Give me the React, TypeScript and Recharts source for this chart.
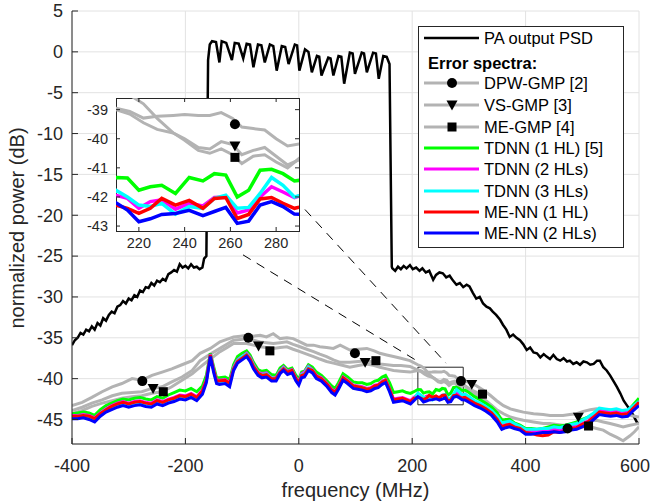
import React from 'react';
import {
  ComposedChart,
  Line,
  XAxis,
  YAxis,
  CartesianGrid,
  ReferenceArea,
  ReferenceLine,
} from 'recharts';

const FONT = '"Liberation Sans", Arial, Helvetica, sans-serif';
const AX = '#262626';
const GREY = '#b3b3b3';

const xTicks = [-400, -200, 0, 200, 400, 600];
const yTicks = [5, 0, -5, -10, -15, -20, -25, -30, -35, -40, -45];
const insetXTicks = [220, 240, 260, 280];
const insetYTicks = [-43, -42, -41, -40, -39];

// PA output PSD
const psdFreq = [
  -400, -395, -390, -385, -380, -375, -370, -365, -360, -355,
  -350, -345, -340, -335, -330, -325, -320, -315, -310, -305,
  -300, -295, -290, -285, -280, -275, -270, -265, -260, -255,
  -250, -245, -240, -235, -230, -225, -220, -215, -210, -205,
  -200, -195, -190, -185, -180, -175, -170, -167, -163, -160,
  -157, -153, -146, -140, -136, -128, -118, -113, -106, -98,
  -92, -86, -80, -72, -66, -60, -51, -45, -39, -30,
  -24, -18, -7, -3, 1, 11, 17, 23, 32, 36,
  40, 52, 56, 61, 70, 75, 80, 90, 95, 99,
  111, 115, 120, 131, 136, 141, 149, 155, 160, 164,
  165, 170, 175, 180, 185, 190, 196, 201, 207, 213,
  218, 224, 230, 237, 242, 248, 254, 260, 266, 272,
  278, 284, 290, 296, 301, 307, 313, 319, 325, 331,
  337, 342, 348, 355, 360, 366, 372, 378, 384, 390,
  396, 402, 408, 414, 420, 426, 432, 437, 443, 449,
  455, 461, 467, 473, 478, 484, 490, 496, 502, 508,
  514, 520, 526, 531, 537, 543, 549, 555, 561, 567,
  573, 579, 585, 590, 596, 600,
];
const psdVals = [
  -35.9, -35.3, -35.0, -34.4, -34.6, -34.0, -34.2, -33.6, -34.0, -33.2,
  -33.5, -32.6, -32.9, -32.2, -31.8, -32.0, -31.2, -31.0, -30.5, -30.8,
  -30.2, -30.4, -29.8, -30.0, -29.2, -29.4, -28.8, -28.9, -28.3, -28.6,
  -28.0, -28.2, -27.8, -28.0, -27.2, -27.0, -26.7, -26.9, -26.0, -26.4,
  -26.2, -26.5, -26.0, -26.4, -26.3, -26.6, -26.4, -25.3, -25.0, -1.0,
  0.9, 1.3, 1.2, -1.3, 1.3, 1.1, -1.0, 1.1, 1.0, -0.8,
  1.0, 0.9, -1.9, 0.9, 0.8, -1.3, 0.9, 0.7, -2.3, 0.7,
  0.6, -1.5, 0.9, 0.8, -2.3, 0.3, 0.0, -2.5, -0.5, -0.6,
  -2.9, -0.7, -0.8, -2.9, -0.5, -0.6, -3.9, -0.1, -0.2, -2.7,
  -0.1, -0.2, -2.5, -0.1, -0.2, -3.3, -0.5, -0.6, -1.5, -26.3,
  -26.5, -26.8, -26.3, -26.6, -26.2, -26.5, -26.1, -26.6, -26.4, -26.8,
  -26.5, -27.0, -26.8, -27.9, -27.3, -27.0, -27.1, -27.6, -27.4, -28.0,
  -28.5, -28.3, -28.8, -28.5, -28.7, -29.5, -30.2, -30.0, -30.8, -31.2,
  -31.4, -31.8, -32.2, -32.8, -33.4, -34.0, -34.9, -34.6, -35.0, -35.3,
  -35.8, -36.5, -36.2, -36.8, -36.9, -37.4, -37.0, -37.3, -37.6, -37.1,
  -37.6, -37.8, -37.5, -37.9, -37.8, -38.2, -38.0, -38.3, -37.9, -38.0,
  -38.3, -38.2, -37.8, -37.8, -38.6, -39.0, -39.6, -40.3, -41.0, -41.8,
  -42.7, -43.3, -43.9, -44.5, -45.3, -45.6,
];

// GMP error spectra (grey)
const gmpFreq = [
  -400, -382, -365, -347, -329, -312, -294, -277, -259, -241,
  -224, -206, -188, -174, -156, -139, -127, -115, -103, -92,
  -80, -68, -57, -45, -33, -21, -10, 2, 14, 26,
  37, 49, 61, 73, 90, 105, 120, 133, 143, 155,
  167, 180, 196, 210, 216, 222, 228, 235, 240, 246,
  251, 256, 261, 265, 270, 275, 280, 285, 290, 302,
  314, 325, 337, 349, 361, 373, 384, 396, 414, 431,
  443, 455, 466, 478, 490, 502, 514, 525, 537, 549,
  561, 572, 584, 592, 600,
];
const dpwGmp = [
  -43.3, -42.9, -42.3, -41.6, -41.0, -40.6, -40.0, -40.2, -39.6, -39.2,
  -38.8, -38.3, -37.8, -36.9, -36.3, -35.5, -35.2, -34.9, -34.8, -34.7,
  -34.8, -34.7, -34.9, -34.5, -35.1, -35.0, -35.1, -35.5, -35.9, -35.9,
  -36.1, -36.2, -36.3, -35.9, -36.5, -36.4, -36.3, -36.6, -36.9, -37.1,
  -37.3, -37.5, -37.8, -38.3, -38.5, -38.8, -39.3, -39.8, -40.05, -40.4,
  -40.5, -40.35, -40.55, -40.85, -40.6, -40.55, -40.8, -41.0, -40.68, -41.5,
  -42.0, -42.8, -43.7, -44.4, -45.1, -45.5, -45.9, -46.1, -46.3, -46.4,
  -46.5, -46.4, -46.3, -46.2, -46.1, -45.9, -45.9, -46.1, -46.3, -46.8,
  -47.2, -47.6, -47.0, -46.5, -45.9,
];
const vsGmp = [
  -43.9, -43.5, -43.0, -42.6, -42.1, -41.8, -41.7, -41.6, -41.2, -41.0,
  -40.4, -39.8, -39.0, -37.8, -37.0, -36.3, -35.8, -35.3, -35.2, -35.1,
  -35.3, -35.5, -35.6, -35.7, -35.6, -35.5, -35.8, -36.1, -36.4, -36.7,
  -37.0, -37.3, -37.7, -38.0, -38.0, -37.9, -37.8, -38.0, -38.2, -38.3,
  -38.4, -38.4, -38.5, -38.95, -39.06, -39.29, -39.23, -39.2, -39.17, -39.2,
  -39.2, -39.1, -39.3, -39.6, -39.65, -39.7, -40.0, -40.25, -40.18, -40.5,
  -40.9, -41.4, -42.0, -42.7, -43.3, -43.7, -43.9, -44.1, -44.3, -44.4,
  -44.5, -44.5, -44.5, -44.4, -44.3, -44.0, -43.8, -43.7, -43.8, -43.8,
  -44.0, -44.1, -44.5, -44.6, -44.7,
];
const meGmp = [
  -44.3, -43.9, -43.4, -43.0, -42.7, -42.4, -42.2, -42.1, -41.8, -41.6,
  -41.0, -40.2, -39.4, -38.6, -37.6, -36.7, -36.2, -35.7, -35.7, -35.7,
  -35.9, -36.1, -36.2, -36.3, -36.2, -36.1, -36.4, -36.7, -37.0, -37.3,
  -37.6, -37.9, -38.1, -38.3, -38.6, -38.4, -38.2, -38.4, -38.6, -38.8,
  -39.0, -39.1, -39.2, -39.0, -39.15, -39.45, -39.68, -39.8, -40.0, -40.3,
  -40.35, -40.1, -40.2, -40.55, -40.4, -40.3, -40.6, -40.9, -40.73, -41.3,
  -41.7, -42.4, -43.1, -43.8, -44.3, -44.7, -44.9, -45.1, -45.3, -45.5,
  -45.5, -45.6, -45.7, -45.6, -45.4, -45.3, -45.2, -45.1, -45.3, -45.5,
  -45.7, -45.9, -45.7, -45.6, -45.5,
];

// NN error spectra
const nnFreq = [
  -400, -390, -380, -370, -360, -350, -340, -330, -320, -310,
  -300, -290, -280, -270, -260, -250, -240, -230, -220, -210,
  -200, -190, -180, -170, -163, -156, -150, -145, -140, -130,
  -122, -115, -108, -100, -92, -86, -80, -72, -65, -57,
  -48, -40, -33, -27, -20, -12, -5, 0, 5, 10,
  17, 24, 31, 40, 50, 58, 64, 70, 78, 86,
  96, 104, 112, 120, 127, 134, 140, 147, 153, 160,
  167, 175, 183, 190, 197, 203, 210, 215, 220, 225,
  230, 236, 242, 248, 253, 258, 263, 268, 273, 278,
  283, 288, 293, 300, 310, 320, 330, 340, 350, 358,
  365, 372, 380, 390, 400, 410, 420, 430, 440, 450,
  460, 470, 480, 490, 500, 510, 520, 530, 540, 550,
  560, 570, 580, 590, 600,
];
const tdnn1 = [
  -44.3, -44.2, -44.1, -44.2, -44.5, -43.8, -43.3, -43.0, -42.7, -42.5,
  -42.6, -42.4, -42.3, -42.5, -42.6, -42.2, -42.4, -42.0, -41.7, -41.4,
  -41.5, -41.2, -41.6, -40.9, -39.6, -36.9, -38.6, -39.9, -39.9, -39.8,
  -40.1, -38.3, -37.3, -36.9, -36.6, -37.1, -38.0, -38.9, -39.1, -39.0,
  -39.5, -39.6, -38.7, -38.4, -38.9, -38.7, -39.6, -40.1, -39.2, -39.1,
  -38.3, -38.6, -39.2, -39.6, -40.3, -40.9, -41.2, -40.5, -39.4, -39.8,
  -40.4, -40.5, -40.5, -40.7, -40.6, -40.3, -40.2, -39.8, -39.6, -40.5,
  -41.7, -41.6, -41.5, -41.7, -41.8, -41.6, -41.33, -41.35, -41.77, -41.65,
  -41.6, -41.88, -41.33, -41.45, -41.2, -41.25, -42.0, -41.77, -41.08, -41.05,
  -41.2, -41.45, -41.4, -41.7, -42.2, -42.6, -43.0, -43.5, -44.2, -45.1,
  -45.0, -45.0, -45.4, -45.7, -46.1, -46.1, -46.2, -46.1, -45.9, -45.7,
  -45.8, -45.7, -45.5, -45.3, -45.0, -44.7, -44.3, -43.8, -43.9, -44.0,
  -43.9, -44.1, -44.0, -43.2, -42.4,
];
const tdnn2 = [
  -44.5, -44.5, -44.4, -44.5, -44.8, -44.2, -43.7, -43.3, -43.0, -42.8,
  -43.0, -42.8, -42.7, -42.9, -43.0, -42.6, -42.8, -42.5, -42.3, -42.0,
  -42.1, -41.8, -42.2, -41.4, -40.1, -37.0, -38.9, -40.2, -40.2, -40.1,
  -40.5, -38.6, -37.7, -37.3, -36.9, -37.4, -38.3, -39.2, -39.4, -39.3,
  -39.9, -39.9, -39.0, -38.6, -39.1, -38.9, -39.9, -40.4, -39.4, -39.2,
  -38.5, -38.9, -39.6, -39.9, -40.6, -41.3, -41.6, -40.9, -39.8, -40.2,
  -40.8, -40.9, -41.0, -41.2, -41.1, -40.8, -40.7, -40.3, -40.1, -41.2,
  -42.5, -42.4, -42.3, -42.5, -42.7, -42.3, -41.94, -42.05, -42.39, -42.16,
  -42.1, -42.42, -42.22, -42.31, -42.02, -42.0, -42.55, -42.45, -42.0, -41.65,
  -41.83, -42.02, -41.9, -42.3, -42.8, -43.1, -43.5, -44.0, -44.8, -45.7,
  -45.5, -45.4, -45.7, -45.9, -46.4, -46.5, -46.4, -46.4, -46.3, -46.2,
  -46.3, -46.1, -45.9, -45.8, -45.5, -45.2, -44.6, -43.9, -44.0, -44.1,
  -44.0, -44.2, -44.1, -43.4, -42.8,
];
const tdnn3 = [
  -44.7, -44.6, -44.5, -44.7, -45.1, -44.3, -43.8, -43.5, -43.2, -43.0,
  -43.2, -43.0, -42.9, -43.1, -43.2, -42.8, -43.0, -42.7, -42.5, -42.2,
  -42.3, -42.0, -42.4, -41.6, -40.2, -37.1, -39.0, -40.4, -40.4, -40.3,
  -40.7, -38.7, -37.8, -37.3, -37.0, -37.5, -38.4, -39.3, -39.5, -39.4,
  -39.9, -40.0, -39.1, -38.7, -39.2, -39.0, -40.0, -40.5, -39.5, -39.4,
  -38.6, -39.0, -39.7, -40.0, -40.7, -41.4, -41.8, -41.0, -39.9, -40.3,
  -40.9, -41.0, -41.1, -41.3, -41.3, -41.0, -40.8, -40.4, -40.2, -41.4,
  -42.7, -42.6, -42.5, -42.7, -42.9, -42.5, -41.77, -42.0, -42.28, -42.33,
  -42.22, -42.59, -42.33, -42.39, -42.05, -41.94, -42.39, -42.36, -41.88, -41.33,
  -41.6, -42.0, -41.9, -42.2, -42.7, -43.0, -43.4, -43.9, -44.6, -45.4,
  -45.3, -45.2, -45.5, -45.8, -46.2, -46.2, -46.2, -46.1, -46.1, -45.9,
  -46.0, -45.8, -45.6, -45.5, -45.1, -44.7, -44.2, -43.6, -43.7, -43.8,
  -43.7, -43.9, -43.8, -43.3, -42.8,
];
const meNn1 = [
  -44.6, -44.6, -44.5, -44.6, -44.9, -44.3, -43.8, -43.4, -43.1, -42.9,
  -43.1, -42.9, -42.8, -43.0, -43.1, -42.7, -42.9, -42.6, -42.4, -42.1,
  -42.2, -41.9, -42.3, -41.5, -40.2, -37.1, -39.0, -40.3, -40.3, -40.2,
  -40.6, -38.8, -37.9, -37.5, -37.1, -37.6, -38.5, -39.3, -39.6, -39.5,
  -40.0, -40.0, -39.2, -38.8, -39.2, -39.0, -40.0, -40.5, -39.6, -39.5,
  -38.8, -39.0, -39.7, -40.0, -40.7, -41.4, -41.7, -41.0, -39.9, -40.3,
  -40.9, -41.0, -41.1, -41.3, -41.2, -40.9, -40.8, -40.4, -40.2, -41.3,
  -42.6, -42.5, -42.4, -42.6, -42.8, -42.4, -42.28, -42.39, -42.56, -42.39,
  -42.05, -42.28, -42.12, -42.39, -42.05, -42.02, -42.74, -42.6, -42.07, -42.02,
  -42.22, -42.39, -42.3, -42.6, -43.0, -43.3, -43.7, -44.2, -45.0, -45.9,
  -45.7, -45.6, -45.9, -46.1, -46.6, -46.7, -46.9, -47.0, -46.9, -46.5,
  -46.6, -46.4, -46.1, -46.0, -45.6, -45.3, -44.7, -44.1, -44.2, -44.3,
  -44.2, -44.4, -44.3, -43.6, -42.9,
];
const meNn2 = [
  -44.9, -44.9, -44.8, -45.0, -45.3, -44.6, -44.1, -43.8, -43.5, -43.3,
  -43.5, -43.3, -43.2, -43.4, -43.5, -43.1, -43.3, -43.0, -42.8, -42.5,
  -42.6, -42.3, -42.7, -41.9, -40.5, -37.3, -39.3, -40.6, -40.7, -40.6,
  -41.0, -39.0, -38.1, -37.7, -37.3, -37.9, -38.8, -39.6, -39.9, -39.8,
  -40.3, -40.3, -39.4, -39.0, -39.5, -39.3, -40.3, -40.8, -39.9, -39.8,
  -39.0, -39.3, -40.0, -40.3, -41.0, -41.7, -42.0, -41.3, -40.2, -40.6,
  -41.2, -41.3, -41.4, -41.6, -41.5, -41.2, -41.1, -40.7, -40.5, -41.6,
  -42.9, -42.8, -42.7, -42.9, -43.1, -42.7, -42.2, -42.45, -42.85, -42.75,
  -42.6, -42.57, -42.46, -42.64, -42.5, -42.36, -42.91, -42.83, -42.28, -42.16,
  -42.33, -42.59, -42.6, -42.9, -43.3, -43.6, -44.0, -44.5, -45.3, -46.2,
  -46.0, -45.9, -46.1, -46.3, -46.8, -46.8, -46.7, -46.6, -46.6, -46.5,
  -46.6, -46.5, -46.3, -46.2, -45.9, -45.6, -45.0, -44.4, -44.5, -44.6,
  -44.5, -44.7, -44.6, -43.9, -43.3,
];

// marker positions [freq, dB]
const dpwMarks = [[-276, -40.3], [-89, -35.0], [99, -36.9], [286, -40.3], [474, -46.1]];
const vsMarks = [[-257, -41.2], [-71, -36.0], [117, -38.0], [305, -40.7], [493, -44.7]];
const meMarks = [[-239, -41.6], [-51, -36.6], [136, -37.8], [324, -41.9], [511, -45.8]];
const insetDpwMarks = [[262, -39.5]];
const insetVsMarks = [[262, -40.25]];
const insetMeMarks = [[262, -40.64]];

const zoomBox = { f1: 210, f2: 290, p1: -43.2, p2: -38.6 };
const zoomLinks = [
  [{ x: -98.4, y: -24.85 }, { x: 206.7, y: -37.75 }],
  [{ x: 10.9, y: -19.3 }, { x: 259.6, y: -38.1 }],
];

const pts = (fs: number[], vs: number[]) => fs.map((f, i) => ({ f, v: vs[i] }));
const marks = (m: number[][]) => m.map(([f, v]) => ({ f, v }));

const psd = pts(psdFreq, psdVals);
const greySeries = [pts(gmpFreq, dpwGmp), pts(gmpFreq, vsGmp), pts(gmpFreq, meGmp)];
const nnSeries = [
  { data: pts(nnFreq, tdnn1), color: '#00ff00' },
  { data: pts(nnFreq, tdnn2), color: '#ff00ff' },
  { data: pts(nnFreq, tdnn3), color: '#00ffff' },
  { data: pts(nnFreq, meNn1), color: '#ff0000' },
  { data: pts(nnFreq, meNn2), color: '#0000ff' },
];

function MarkerShape({ kind, cx, cy }: any) {
  if (cx == null || cy == null) return null;
  if (kind === 'circle') return <circle cx={cx} cy={cy} r={5} fill="#000" />;
  if (kind === 'tri') {
    const s = 5.5;
    return <polygon points={`${cx - s},${cy - s * 0.8} ${cx + s},${cy - s * 0.8} ${cx},${cy + s}`} fill="#000" />;
  }
  const h = 4.5;
  return <rect x={cx - h} y={cy - h} width={2 * h} height={2 * h} fill="#000" />;
}

const markerDot = (kind: string) => (p: any) => (
  <MarkerShape key={p.key ?? `${kind}-${p.index}`} kind={kind} cx={p.cx} cy={p.cy} />
);

function MainXTick({ x, y, payload }: any) {
  const axisY = y - 15;
  // keep the last label inside the 652px frame
  const tx = Math.min(x, 635);
  return (
    <g>
      <line x1={x} x2={x} y1={axisY} y2={axisY - 6} stroke={AX} />
      <text x={tx} y={y} dy="0.71em" textAnchor="middle" fontSize={18} fill={AX} fontFamily={FONT}>
        {payload.value}
      </text>
    </g>
  );
}

function MainYTick({ x, y, payload }: any) {
  const axisX = x + 9;
  return (
    <g>
      <line x1={axisX} x2={axisX + 6} y1={y} y2={y} stroke={AX} />
      <text x={x} y={y} dy="0.35em" textAnchor="end" fontSize={18} fill={AX} fontFamily={FONT}>
        {payload.value}
      </text>
    </g>
  );
}

function InsetXTick({ x, y, payload }: any) {
  const bottom = y - 7;
  const top = bottom - 133;
  return (
    <g>
      <line x1={x} x2={x} y1={bottom} y2={bottom - 4} stroke={AX} />
      <line x1={x} x2={x} y1={top} y2={top + 4} stroke={AX} />
      <text x={x} y={y} dy="0.71em" textAnchor="middle" fontSize={14.5} fill={AX} fontFamily={FONT}>
        {payload.value}
      </text>
    </g>
  );
}

function InsetYTick({ x, y, payload }: any) {
  const left = x + 8;
  const right = left + 183;
  return (
    <g>
      <line x1={left} x2={left + 4} y1={y} y2={y} stroke={AX} />
      <line x1={right} x2={right - 4} y1={y} y2={y} stroke={AX} />
      <text x={x} y={y} dy="0.35em" textAnchor="end" fontSize={14.5} fill={AX} fontFamily={FONT}>
        {payload.value}
      </text>
    </g>
  );
}

const legendRows = [
  { label: 'PA output PSD', color: '#000', marker: '' },
  { label: 'Error spectra:', color: '', marker: '' },
  { label: 'DPW-GMP [2]', color: GREY, marker: 'circle' },
  { label: 'VS-GMP [3]', color: GREY, marker: 'tri' },
  { label: 'ME-GMP [4]', color: GREY, marker: 'square' },
  { label: 'TDNN (1 HL) [5]', color: '#00ff00', marker: '' },
  { label: 'TDNN (2 HLs)', color: '#ff00ff', marker: '' },
  { label: 'TDNN (3 HLs)', color: '#00ffff', marker: '' },
  { label: 'ME-NN (1 HL)', color: '#ff0000', marker: '' },
  { label: 'ME-NN (2 HLs)', color: '#0000ff', marker: '' },
];
const legendRowY = [12, 37, 57, 79, 101, 122, 143, 165, 186, 207];

function LegendBox() {
  return (
    <svg width={206} height={222} style={{ position: 'absolute', left: 418, top: 26 }}>
      <rect x={0.5} y={0.5} width={205} height={221} fill="#fff" stroke={AX} />
      {legendRows.map((r, i) => {
        const y = legendRowY[i];
        if (!r.color) {
          return (
            <text key={r.label} x={10} y={y} dy="0.35em" fontSize={16.5} fontWeight="bold" fill="#000" fontFamily={FONT}>
              {r.label}
            </text>
          );
        }
        return (
          <g key={r.label}>
            <line x1={6} x2={61} y1={y} y2={y} stroke={r.color} strokeWidth={r.color === '#000' ? 2.5 : 3} />
            {r.marker && <MarkerShape kind={r.marker} cx={34} cy={y} />}
            <text x={66} y={y} dy="0.35em" fontSize={16.5} fill="#000" fontFamily={FONT}>
              {r.label}
            </text>
          </g>
        );
      })}
    </svg>
  );
}

export default function App() {
  const greyLines = greySeries.map((d, i) => (
    <Line key={`g${i}`} data={d} dataKey="v" type="linear" stroke={GREY} strokeWidth={3}
      dot={false} activeDot={false} isAnimationActive={false} />
  ));
  const nnLines = (w: number) => nnSeries.map((s, i) => (
    <Line key={`n${i}`} data={s.data} dataKey="v" type="linear" stroke={s.color} strokeWidth={w}
      dot={false} activeDot={false} isAnimationActive={false} />
  ));
  const markerLines = (d: number[][], e: number[][], g: number[][]) => [
    <Line key="mk1" data={marks(d)} dataKey="v" stroke="none" dot={markerDot('circle')} activeDot={false} isAnimationActive={false} />,
    <Line key="mk2" data={marks(e)} dataKey="v" stroke="none" dot={markerDot('tri')} activeDot={false} isAnimationActive={false} />,
    <Line key="mk3" data={marks(g)} dataKey="v" stroke="none" dot={markerDot('square')} activeDot={false} isAnimationActive={false} />,
  ];

  return (
    <div style={{ position: 'absolute', left: 0, top: 0, width: 652, height: 503, background: '#fff', fontFamily: FONT }}>
      <div style={{ position: 'absolute', left: 0, top: 0 }}>
        <ComposedChart width={652} height={503} margin={{ top: 11, right: 13, bottom: 0, left: 0 }}>
          <CartesianGrid stroke="#e2e2e2" />
          <XAxis type="number" dataKey="f" domain={[-400, 600]} ticks={xTicks} interval={0}
            allowDataOverflow height={59} tickSize={0} tickMargin={15} tick={MainXTick}
            axisLine={{ stroke: AX }}
            label={{ value: 'frequency (MHz)', position: 'insideBottom', offset: 6, fill: AX, fontSize: 20, fontFamily: FONT }} />
          <YAxis type="number" domain={[-48, 5]} ticks={yTicks} interval={0} allowDataOverflow
            width={72} tickSize={0} tickMargin={9} tick={MainYTick} axisLine={{ stroke: AX }}
            label={{
              content: () => (
                <text x={17} y={228} transform="rotate(-90 17 228)" textAnchor="middle" dy="0.35em"
                  fontSize={20} fill={AX} fontFamily={FONT}>normalized power (dB)</text>
              ),
            }} />
          <Line data={psd} dataKey="v" type="linear" stroke="#000" strokeWidth={2.5}
            dot={false} activeDot={false} isAnimationActive={false} />
          {greyLines}
          {nnLines(3)}
          {markerLines(dpwMarks, vsMarks, meMarks)}
          <ReferenceArea x1={zoomBox.f1} x2={zoomBox.f2} y1={zoomBox.p1} y2={zoomBox.p2}
            fill="none" fillOpacity={0} stroke={AX} strokeWidth={1} />
          {zoomLinks.map((seg, i) => (
            <ReferenceLine key={`z${i}`} segment={seg} stroke="#000" strokeWidth={1} strokeDasharray="9 7" />
          ))}
        </ComposedChart>
      </div>
      <div style={{ position: 'absolute', left: 116, top: 98, width: 184, height: 134, background: '#fff',
        border: `1px solid ${AX}`, boxSizing: 'border-box' }} />
      <div style={{ position: 'absolute', left: 80, top: 90 }}>
        <ComposedChart width={230} height={170} margin={{ top: 8, right: 11, bottom: 0, left: 0 }}>
          <XAxis type="number" dataKey="f" domain={[210, 290]} ticks={insetXTicks} interval={0}
            allowDataOverflow height={29} tickSize={0} tickMargin={7} tick={InsetXTick} axisLine={false} />
          <YAxis type="number" domain={[-43.17, -38.6]} ticks={insetYTicks} interval={0} allowDataOverflow
            width={36} tickSize={0} tickMargin={8} tick={InsetYTick} axisLine={false} />
          {greyLines}
          {nnLines(3.5)}
          {markerLines(insetDpwMarks, insetVsMarks, insetMeMarks)}
        </ComposedChart>
      </div>
      <LegendBox />
    </div>
  );
}
